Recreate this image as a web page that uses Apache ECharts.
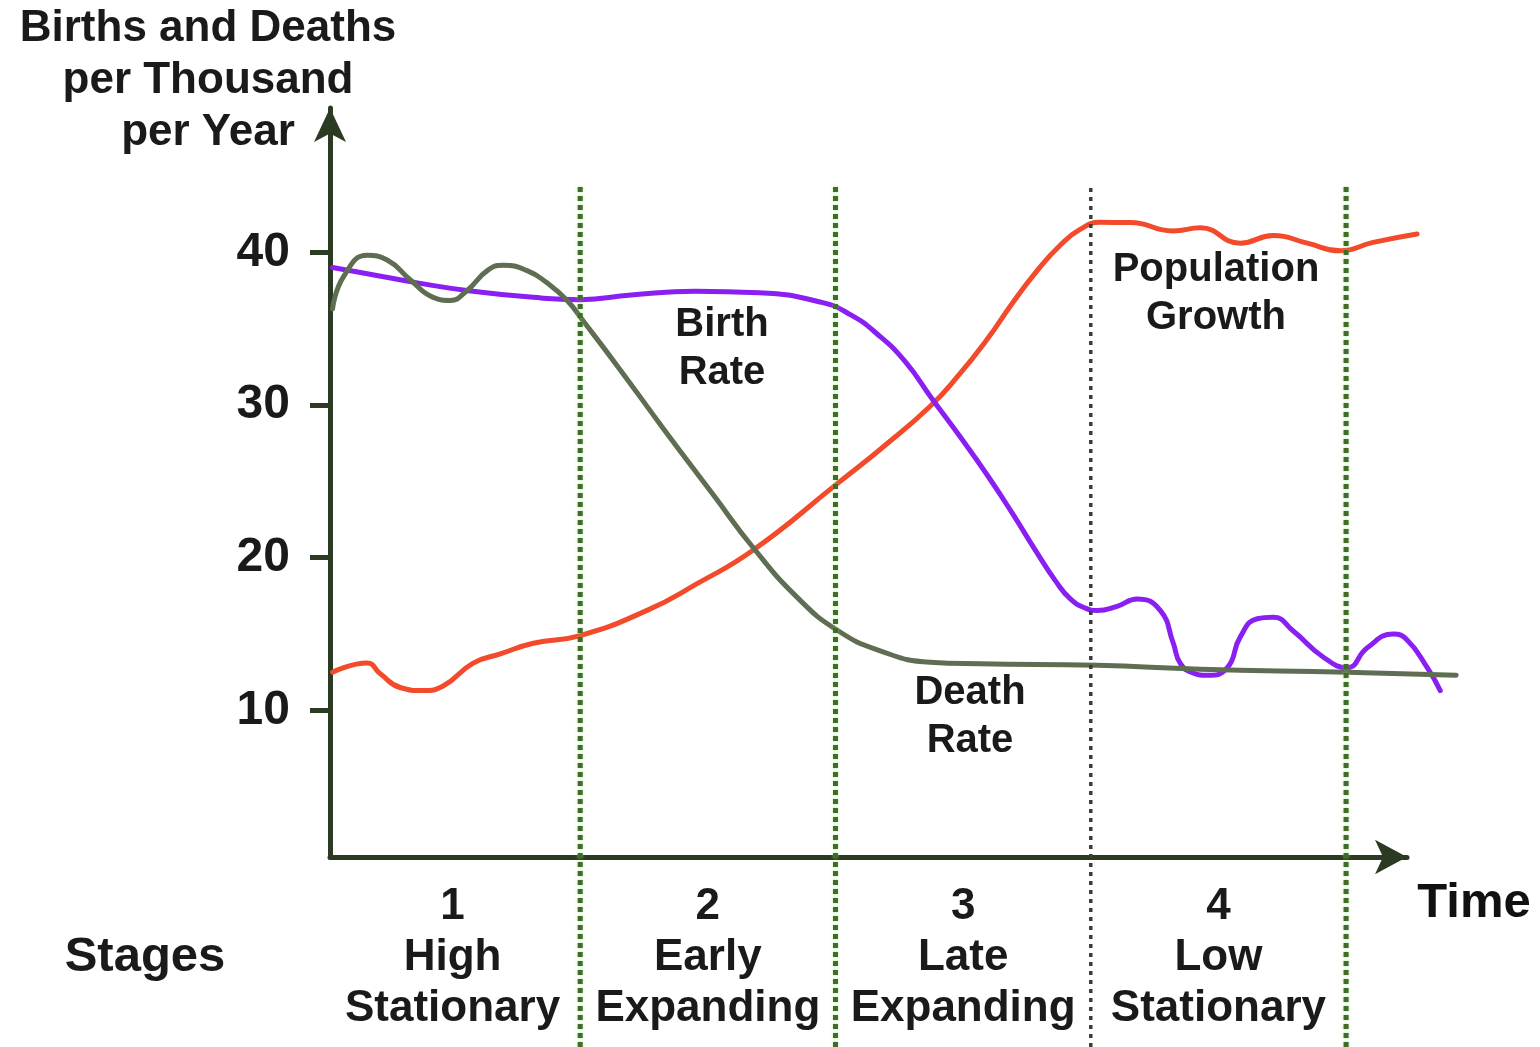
<!DOCTYPE html>
<html><head><meta charset="utf-8">
<script src="https://cdn.jsdelivr.net/npm/echarts@6/dist/echarts.min.js"></script>
<style>html,body{margin:0;padding:0;background:#fff}#c{width:1540px;height:1047px}</style>
</head><body><div id="c"></div>
<script>
// Stage boundaries and label positions (x in "stage" units)
const stageBounds = [1, 2, 3, 4];
const stageCenters = [0.5, 1.5, 2.5, 3.5];
const stageLabels = ['1\nHigh\nStationary', '2\nEarly\nExpanding', '3\nLate\nExpanding', '4\nLow\nStationary'];
const yTickValues = [10, 20, 30, 40];

// Birth rate (purple)
const birthRate = [[0.03,39.0],[0.166,38.6],[0.362,38.0],[0.557,37.5],[0.816,37.05],[1.0,36.9],[1.2,37.2],[1.45,37.45],[1.7,37.35],[1.95,36.7],[2.06,35.9],[2.16,34.7],[2.27,32.9],[2.383,30.3],[2.489,27.9],[2.595,25.4],[2.693,22.9],[2.790,20.3],[2.861,18.5],[2.920,17.3],[2.979,16.7],[3.025,16.55],[3.1,16.8],[3.182,17.3],[3.272,16.55],[3.323,14.4],[3.35,13.1],[3.40,12.45],[3.456,12.3],[3.535,12.8],[3.585,14.8],[3.652,16.0],[3.715,16.1],[3.793,15.2],[3.910,13.5],[4.004,12.8],[4.083,14.1],[4.185,15.0],[4.24,14.6],[4.318,12.8],[4.369,11.3]];

// Death rate (grey-olive)
const deathRate = [[0.03,36.3],[0.073,38.4],[0.166,39.8],[0.244,39.5],[0.334,38.2],[0.424,37.05],[0.491,36.85],[0.557,37.5],[0.636,38.8],[0.698,39.15],[0.792,38.8],[0.870,38.0],[0.949,36.85],[1.012,35.5],[1.157,32.3],[1.326,28.45],[1.522,24.1],[1.678,20.65],[1.85,17.4],[2.007,15.25],[2.175,13.9],[2.371,13.15],[2.567,13.05],[3.025,12.95],[3.429,12.7],[4.004,12.5],[4.431,12.3]];

// Population growth (red)
const populationGrowth = [[0.03,12.5],[0.166,13.1],[0.217,12.4],[0.295,11.5],[0.385,11.3],[0.463,11.6],[0.581,13.1],[0.687,13.7],[0.816,14.4],[1.0,14.9],[1.262,16.55],[1.458,18.3],[1.678,20.5],[2.007,24.85],[2.19,27.3],[2.37,29.9],[2.48,31.9],[2.594,34.3],[2.69,36.6],[2.79,38.8],[2.88,40.46],[2.958,41.5],[3.037,41.96],[3.155,41.95],[3.323,41.4],[3.429,41.6],[3.585,40.6],[3.715,41.1],[3.848,40.6],[3.977,40.1],[4.106,40.65],[4.278,41.2]];

const FONT = '"Liberation Sans", Arial, Helvetica, sans-serif';
const AXIS_COLOR = '#2b3a22';
const X_MIN = 0.02;
const X_MAX_DATA = 4.4462;   // wide data grid (curves run past the arrow)
const X_MAX_AXIS = 4.2386;   // visible time axis ending in the arrow

const chart = echarts.init(document.getElementById('c'), null, {renderer: 'canvas'});

const boundSeries = stageBounds.map(b => ({
  type: 'line', xAxisIndex: 1, yAxisIndex: 1, silent: true, symbol: 'none', z: 5,
  data: [[b, 0], [b, 1]],
  lineStyle: {
    type: b === 3 ? [4, 5] : [5, 4],
    width: b === 3 ? 3.5 : 5,
    color: b === 3 ? '#3a3d38' : '#3f6b2b',
    shadowColor: b === 3 ? 'rgba(0,0,0,0)' : 'rgba(140,220,90,0.7)',
    shadowBlur: 3
  }
}));

function curve(name, data, color, width) {
  return {
    name, type: 'line', data, smooth: 0.5, symbol: 'none', z: 3,
    xAxisIndex: 0, yAxisIndex: 0,
    lineStyle: {color, width, cap: 'round', join: 'round'}
  };
}

chart.setOption({
  animation: false,
  backgroundColor: '#ffffff',
  grid: [
    {left: 330, right: 80, top: 108, bottom: 190},
    {left: 330, right: 80, top: 185, bottom: 0},
    {left: 330, right: 133, top: 108, bottom: 190}
  ],
  xAxis: [
    {type: 'value', gridIndex: 0, min: X_MIN, max: X_MAX_DATA, show: false},
    {type: 'value', gridIndex: 1, min: X_MIN, max: X_MAX_DATA, show: false},
    {
      type: 'value', gridIndex: 2, min: X_MIN, max: X_MAX_AXIS,
      splitLine: {show: false},
      axisLine: {show: true, lineStyle: {color: AXIS_COLOR, width: 5}, symbol: ['none', 'arrow'], symbolSize: [26, 32]},
      axisTick: {show: false},
      axisLabel: {
        show: true, customValues: stageCenters, margin: 24,
        formatter: v => { const i = stageCenters.findIndex(c => Math.abs(c - v) < 1e-6); return i >= 0 ? stageLabels[i] : ''; },
        fontFamily: FONT, fontWeight: 'bold', fontSize: 44, lineHeight: 51, color: '#1a1a1a', align: 'center'
      }
    }
  ],
  yAxis: [
    {
      type: 'value', gridIndex: 0, min: 0.4, max: 49.45,
      splitLine: {show: false},
      axisLine: {show: true, lineStyle: {color: AXIS_COLOR, width: 5}, symbol: ['none', 'arrow'], symbolSize: [24, 34]},
      axisTick: {show: true, customValues: yTickValues, length: 20, lineStyle: {color: AXIS_COLOR, width: 5}},
      axisLabel: {
        show: true, customValues: yTickValues, margin: 40,
        fontFamily: FONT, fontWeight: 'bold', fontSize: 48, color: '#1a1a1a'
      }
    },
    {type: 'value', gridIndex: 1, min: 0, max: 1, show: false},
    {type: 'value', gridIndex: 2, min: 0, max: 1, show: false}
  ],
  graphic: [
    {type: 'text', x: 208, y: 3, style: {text: 'Births and Deaths\nper Thousand\nper Year', textAlign: 'center', textVerticalAlign: 'top', font: 'bold 44px ' + FONT, lineHeight: 52, fill: '#1a1a1a'}},
    {type: 'text', x: 1474, y: 903, style: {text: 'Time', textAlign: 'center', textVerticalAlign: 'middle', font: 'bold 49px ' + FONT, fill: '#111'}},
    {type: 'text', x: 145, y: 957, style: {text: 'Stages', textAlign: 'center', textVerticalAlign: 'middle', font: 'bold 49px ' + FONT, fill: '#1a1a1a'}},
    {type: 'text', x: 722, y: 301, style: {text: 'Birth\nRate', textAlign: 'center', textVerticalAlign: 'top', font: 'bold 40px ' + FONT, lineHeight: 48, fill: '#1a1a1a'}},
    {type: 'text', x: 1216, y: 246, style: {text: 'Population\nGrowth', textAlign: 'center', textVerticalAlign: 'top', font: 'bold 40px ' + FONT, lineHeight: 48, fill: '#1a1a1a'}},
    {type: 'text', x: 970, y: 669, style: {text: 'Death\nRate', textAlign: 'center', textVerticalAlign: 'top', font: 'bold 40px ' + FONT, lineHeight: 48, fill: '#1a1a1a'}}
  ],
  series: [
    ...boundSeries,
    curve('Population Growth', populationGrowth, '#f24a2a', 5),
    curve('Birth Rate', birthRate, '#8a1ff2', 5),
    curve('Death Rate', deathRate, '#5f6e52', 5)
  ]
});
</script></body></html>
